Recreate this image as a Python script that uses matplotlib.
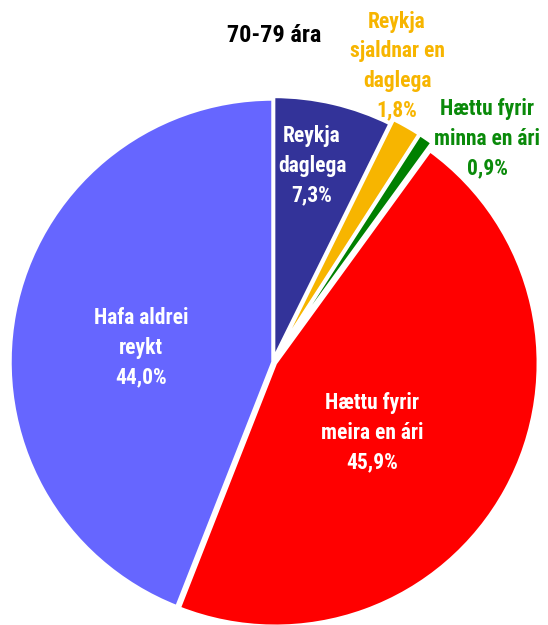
import matplotlib
matplotlib.use("Agg")
import matplotlib.pyplot as plt

# data (clockwise from top)
labels = ["Reykja\ndaglega", "Reykja\nsjaldnar en\ndaglega", "Hættu fyrir\nminna en ári",
          "Hættu fyrir\nmeira en ári", "Hafa aldrei\nreykt"]
values = [7.3, 1.8, 0.9, 45.9, 44.0]
colors = ["#333399", "#F7B500", "#008000", "#FF0000", "#6666FF"]
text_colors = ["white", "#F7B500", "#0A8A0A", "white", "white"]
title = "70-79 ára"

plt.rcParams['font.family'] = ['Roboto Condensed', 'DejaVu Sans']

fig = plt.figure(figsize=(5.48, 6.25), dpi=100)
ax = fig.add_axes([0, 0, 1, 1])

r_px = 263
cx, cy = 273, 362

explode = [0.01, 0.03, 0.03, 0.01, 0.0]
ax.pie(values, colors=colors, startangle=90, counterclock=False, explode=explode,
       radius=1.0, wedgeprops=dict(edgecolor='white', linewidth=2.5))

ax.set_xlim(-cx / r_px, (548 - cx) / r_px)
ax.set_ylim(-(625 - cy) / r_px, cy / r_px)
ax.set_aspect('equal')
ax.axis('off')

# label positions in pixel coords (center of text block)
label_pos = [(312, 166), (397, 66), (487, 139), (372, 433), (141, 348)]
for lab, v, tc, (px, py) in zip(labels, values, text_colors, label_pos):
    txt = lab + "\n" + f"{v:.1f}%".replace(".", ",")
    ax.text((px - cx) / r_px, (cy - py) / r_px, txt, ha='center', va='center',
            color=tc, fontsize=15.5, fontweight='bold', linespacing=1.45)

ax.text((274 - cx) / r_px, (cy - 35) / r_px, title, ha='center', va='center',
        color='black', fontsize=17.5, fontweight='bold')

fig.savefig("out.png", dpi=100)
